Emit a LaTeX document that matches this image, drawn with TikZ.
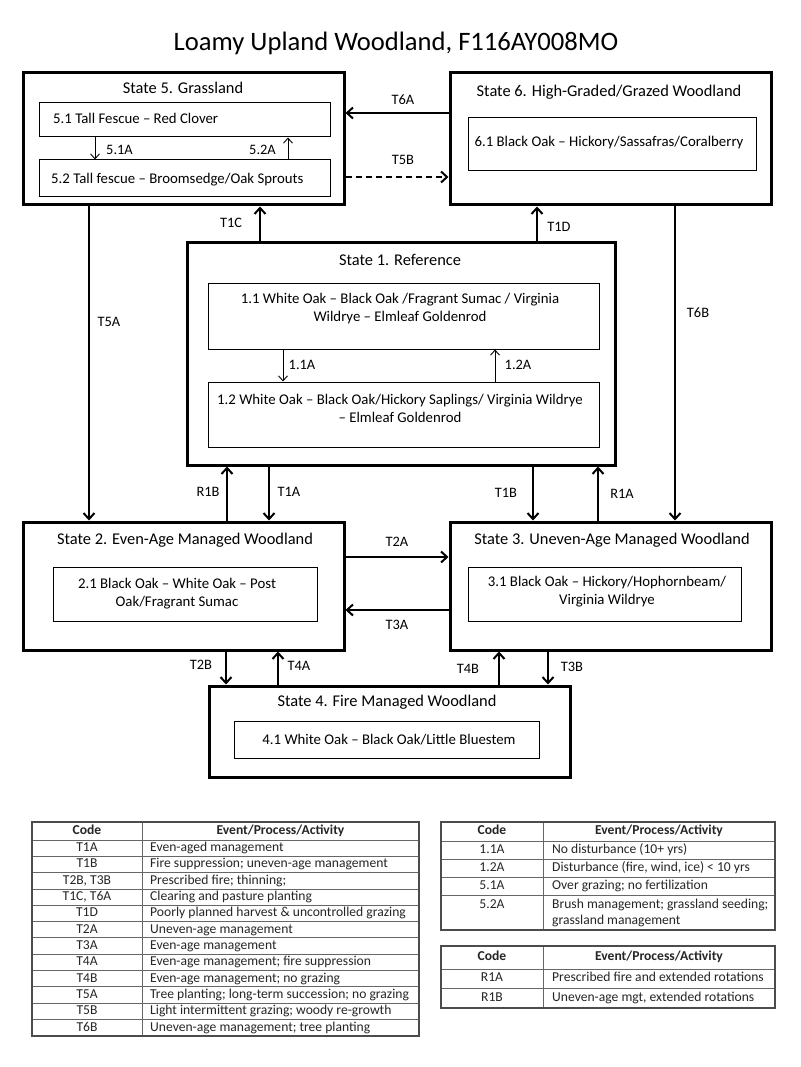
\documentclass[tikz,border=0pt]{standalone}
\usepackage{fontspec}
\setmainfont{Carlito}
\usetikzlibrary{arrows.meta}
\newcommand\lrow[3]{%
  \node[tcode] (lc#1) at (87,{840+(#1-0.5)*16.33}) {#2};
  \node[tdesc] (ld#1) at (150,{840+(#1-0.5)*16.33}) {#3};
  \draw[tline] (32,{840+#1*16.33}) -- (419,{840+#1*16.33});
}
\begin{document}
\begin{tikzpicture}[x=1pt,y=-1pt,
  statebox/.style={draw, line width=3pt, inner sep=0pt},
  subbox/.style={draw, line width=1pt, inner sep=0pt},
  stitle/.style={font=\fontsize{16.4}{19}\selectfont, inner sep=0pt},
  stext/.style={font=\fontsize{14.8}{18}\selectfont, inner sep=0pt, align=center},
  lab/.style={font=\fontsize{14.4}{17}\selectfont, inner sep=0pt},
  arr/.style={line width=2pt, -{Straight Barb[length=6pt,width=11pt,line width=2pt]}},
  thinarr/.style={line width=0.9pt, -{Straight Barb[length=5pt,width=9pt,line width=0.9pt]}},
  tcode/.style={font=\fontsize{13.6}{15}\selectfont, inner sep=0pt, text height=9pt, text depth=2.5pt, text=black!85},
  tdesc/.style={tcode, anchor=west},
  thead/.style={tcode, font=\fontsize{13.6}{15}\selectfont\bfseries},
  tline/.style={line width=1pt, draw=black!60},
  tborder/.style={line width=1.4pt, draw=black!70}
]
\useasboundingbox (0,0) rectangle (800,1067);
\fill[white] (0,0) rectangle (800,1067);

% title
\node[font=\fontsize{26.6}{30}\selectfont, inner sep=0pt] (title) at (396,43) {Loamy Upland Woodland, F116AY008MO};

% state boxes
\node[statebox, minimum width=321pt, minimum height=132pt] (s5) at (183.5,139) {};
\node[statebox, minimum width=321pt, minimum height=132pt] (s6) at (610.5,139) {};
\node[statebox, minimum width=428pt, minimum height=222pt] (s1) at (401,354) {};
\node[statebox, minimum width=321pt, minimum height=128pt] (s2) at (183.5,586) {};
\node[statebox, minimum width=321pt, minimum height=128pt] (s3) at (610.5,586) {};
\node[statebox, minimum width=361pt, minimum height=91pt] (s4) at (389.5,731.5) {};

% state titles
\node[stitle] (t5) at (183,88) {State 5. Grassland};
\node[stitle] (t6) at (609,92) {State 6. High-Graded/Grazed Woodland};
\node[stitle] (t1) at (400,260) {State 1. Reference};
\node[stitle] (t2) at (185,540) {State 2. Even-Age Managed Woodland};
\node[stitle] (t3) at (612,540) {State 3. Uneven-Age Managed Woodland};
\node[stitle] (t4) at (387,702) {State 4. Fire Managed Woodland};

% sub boxes
\node[subbox, minimum width=291pt, minimum height=34pt] (b51) at (184.5,120) {};
\node[subbox, minimum width=291pt, minimum height=37pt] (b52) at (184.5,178.5) {};
\node[subbox, minimum width=288pt, minimum height=53pt] (b61) at (612,144.5) {};
\node[subbox, minimum width=391pt, minimum height=66pt] (b11) at (403.5,316) {};
\node[subbox, minimum width=391pt, minimum height=65pt] (b12) at (403.5,414.5) {};
\node[subbox, minimum width=264pt, minimum height=54pt] (b21) at (185,594) {};
\node[subbox, minimum width=273pt, minimum height=54pt] (b31) at (604.5,594) {};
\node[subbox, minimum width=305pt, minimum height=37pt] (b41) at (386.5,739.5) {};

% sub texts
\node[stext, anchor=west] (x51) at (53,118) {5.1 Tall Fescue -- Red Clover};
\node[stext, anchor=west] (x52) at (51,180) {5.2 Tall fescue -- Broomsedge/Oak Sprouts};
\node[stext] (x61) at (609,143) {6.1 Black Oak -- Hickory/Sassafras/Coralberry};
\node[stext] (x11) at (400,309) {1.1 White Oak -- Black Oak /Fragrant Sumac / Virginia\\Wildrye -- Elmleaf Goldenrod};
\node[stext] (x12) at (400,408) {1.2 White Oak -- Black Oak/Hickory Saplings/ Virginia Wildrye\\-- Elmleaf Goldenrod};
\node[stext] (x21) at (177,594) {2.1 Black Oak -- White Oak -- Post\\Oak/Fragrant Sumac};
\node[stext] (x31) at (607,591.5) {3.1 Black Oak -- Hickory/Hophornbeam/\\Virginia Wildrye};
\node[stext] (x41) at (389,740) {4.1 White Oak -- Black Oak/Little Bluestem};

% helper coordinates
\coordinate (c89) at (89,0);
\coordinate (c95) at (95,0);
\coordinate (c226) at (226,0);
\coordinate (c227) at (227,0);
\coordinate (c260) at (260,0);
\coordinate (c269) at (269,0);
\coordinate (c278) at (278,0);
\coordinate (c283) at (283,0);
\coordinate (c288) at (288,0);
\coordinate (c495) at (495,0);
\coordinate (c499) at (499,0);
\coordinate (c533) at (533,0);
\coordinate (c537) at (537,0);
\coordinate (c548) at (548,0);
\coordinate (c598) at (598,0);
\coordinate (c675) at (675,0);
\coordinate (r113) at (0,113);
\coordinate (r177) at (0,177);
\coordinate (r557) at (0,557);
\coordinate (r610) at (0,610);

% connectors
\draw[arr] (s6.west |- r113) -- (s5.east |- r113);
\draw[arr, dashed, dash pattern=on 6pt off 4pt] (s5.east |- r177) -- (s6.west |- r177);
\draw[thinarr] (b51.south -| c95) -- (b52.north -| c95);
\draw[thinarr] (b52.north -| c288) -- (b51.south -| c288);
\draw[arr] (s1.north -| c260) -- (s5.south -| c260);
\draw[arr] (s1.north -| c537) -- (s6.south -| c537);
\draw[arr] (s5.south -| c89) -- (s2.north -| c89);
\draw[arr] (s6.south -| c675) -- (s3.north -| c675);
\draw[thinarr] (b11.south -| c283) -- (b12.north -| c283);
\draw[thinarr] (b12.north -| c495) -- (b11.south -| c495);
\draw[arr] (s2.north -| c227) -- (s1.south -| c227);
\draw[arr] (s1.south -| c269) -- (s2.north -| c269);
\draw[arr] (s1.south -| c533) -- (s3.north -| c533);
\draw[arr] (s3.north -| c598) -- (s1.south -| c598);
\draw[arr] (s2.east |- r557) -- (s3.west |- r557);
\draw[arr] (s3.west |- r610) -- (s2.east |- r610);
\draw[arr] (s2.south -| c226) -- (s4.north -| c226);
\draw[arr] (s4.north -| c278) -- (s2.south -| c278);
\draw[arr] (s4.north -| c499) -- (s3.south -| c499);
\draw[arr] (s3.south -| c548) -- (s4.north -| c548);

% labels
\node[lab] (lT6A) at (403,100) {T6A};
\node[lab] (lT5B) at (403,160) {T5B};
\node[lab, anchor=west] (l51A) at (106,150) {5.1A};
\node[lab, anchor=east] (l52A) at (276,150) {5.2A};
\node[lab] (lT1C) at (231,223) {T1C};
\node[lab] (lT1D) at (559,227) {T1D};
\node[lab] (lT5A) at (109,322) {T5A};
\node[lab] (lT6B) at (698,313) {T6B};
\node[lab] (l11A) at (302,365) {1.1A};
\node[lab] (l12A) at (518,365) {1.2A};
\node[lab] (lR1B) at (208,492) {R1B};
\node[lab] (lT1A) at (289,492) {T1A};
\node[lab] (lT1B) at (506,493) {T1B};
\node[lab] (lR1A) at (622,494) {R1A};
\node[lab] (lT2A) at (397,542) {T2A};
\node[lab] (lT3A) at (397,625) {T3A};
\node[lab] (lT2B) at (201,665) {T2B};
\node[lab] (lT4A) at (299,666) {T4A};
\node[lab] (lT4B) at (468,669) {T4B};
\node[lab] (lT3B) at (572,667) {T3B};

% left table
\draw[tline] (32,840) -- (419,840);
\draw[tline] (142,822) -- (142,1036);
\node[thead] (lhc) at (87,831) {Code};
\node[thead] (lhd) at (280.5,831) {Event/Process/Activity};
\lrow{1}{T1A}{Even-aged management}
\lrow{2}{T1B}{Fire suppression; uneven-age management}
\lrow{3}{T2B, T3B}{Prescribed fire; thinning;}
\lrow{4}{T1C, T6A}{Clearing and pasture planting}
\lrow{5}{T1D}{Poorly planned harvest \& uncontrolled grazing}
\lrow{6}{T2A}{Uneven-age management}
\lrow{7}{T3A}{Even-age management}
\lrow{8}{T4A}{Even-age management; fire suppression}
\lrow{9}{T4B}{Even-age management; no grazing}
\lrow{10}{T5A}{Tree planting; long-term succession; no grazing}
\lrow{11}{T5B}{Light intermittent grazing; woody re-growth}
\lrow{12}{T6B}{Uneven-age management; tree planting}
\draw[tborder] (32,822) rectangle (419,1036);

% right table 1
\draw[tline] (441,841) -- (775,841);
\draw[tline] (441,859) -- (775,859);
\draw[tline] (441,877) -- (775,877);
\draw[tline] (441,895) -- (775,895);
\draw[tline] (543,822) -- (543,930);
\node[thead] (rhc) at (492,831.5) {Code};
\node[thead] (rhd) at (659,831.5) {Event/Process/Activity};
\node[tcode] (rc1) at (492,850) {1.1A};
\node[tdesc] (rd1) at (552,850) {No disturbance (10+ yrs)};
\node[tcode] (rc2) at (492,868) {1.2A};
\node[tdesc] (rd2) at (552,868) {Disturbance (fire, wind, ice) < 10 yrs};
\node[tcode] (rc3) at (492,886) {5.1A};
\node[tdesc] (rd3) at (552,886) {Over grazing; no fertilization};
\node[tcode] (rc4) at (492,905) {5.2A};
\node[tdesc] (rd4) at (552,905) {Brush management; grassland seeding;};
\node[tdesc] (rd4b) at (552,921) {grassland management};
\draw[tborder] (441,822) rectangle (775,930);

% right table 2
\draw[tline] (441,969) -- (775,969);
\draw[tline] (441,988) -- (775,988);
\draw[tline] (543,946) -- (543,1008);
\node[thead] (qhc) at (492,957.5) {Code};
\node[thead] (qhd) at (659,957.5) {Event/Process/Activity};
\node[tcode] (qc1) at (492,978.5) {R1A};
\node[tdesc] (qd1) at (552,978.5) {Prescribed fire and extended rotations};
\node[tcode] (qc2) at (492,998) {R1B};
\node[tdesc] (qd2) at (552,998) {Uneven-age mgt, extended rotations};
\draw[tborder] (441,946) rectangle (775,1008);
\end{tikzpicture}
\end{document}
